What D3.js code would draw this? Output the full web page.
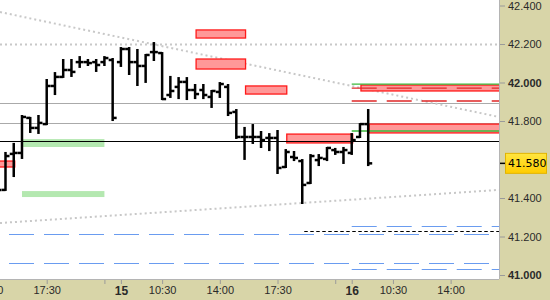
<!DOCTYPE html>
<html>
<head>
<meta charset="utf-8">
<script src="https://cdn.jsdelivr.net/npm/d3@7"></script>
<style>
  body { margin: 0; background: #fff; }
  svg { display: block; font-family: 'DejaVu Sans', sans-serif; }
</style>
</head>
<body>
<svg id="chart" width="550" height="300"></svg>
<script>
// 30 min bars, "day hh:mm" (session 08:00 - 22:00)
const times = [
  '14 14:30', '14 15:00', '14 15:30', '14 16:00', '14 16:30', '14 17:00', '14 17:30', '14 18:00',
  '14 18:30', '14 19:00', '14 19:30', '14 20:00', '14 20:30', '14 21:00', '14 21:30',
  '15 08:00', '15 08:30', '15 09:00', '15 09:30', '15 10:00', '15 10:30', '15 11:00', '15 11:30',
  '15 12:00', '15 12:30', '15 13:00', '15 13:30', '15 14:00', '15 14:30', '15 15:00', '15 15:30',
  '15 16:00', '15 16:30', '15 17:00', '15 17:30', '15 18:00', '15 18:30', '15 19:00', '15 19:30',
  '15 20:00', '15 20:30', '15 21:00', '15 21:30',
  '16 08:00', '16 08:30', '16 09:00'
]
const opens = [
  41.468, 41.442, 41.629, 41.634, 41.816, 41.764, 41.784, 41.982, 42.029, 42.065, 42.106, 42.106, 42.106, 42.106, 42.117,
  42.106, 42.174, 42.106, 42.086, 42.158, 42.153, 41.935, 41.977, 42.003, 41.961, 41.961, 41.925, 41.951, 41.977,
  41.847, 41.717, 41.717, 41.717, 41.712, 41.712, 41.561, 41.613, 41.592, 41.478, 41.597, 41.603, 41.649, 41.639,
  41.634, 41.717, 41.784
]
const highs = [
  41.494, 41.634, 41.681, 41.826, 41.816, 41.826, 42.013, 42.049, 42.117, 42.117, 42.132, 42.117, 42.117, 42.132, 42.122,
  42.179, 42.179, 42.169, 42.143, 42.205, 42.153, 42.029, 42.023, 42.023, 41.987, 41.987, 41.956, 41.997, 41.987,
  41.857, 41.764, 41.779, 41.743, 41.732, 41.748, 41.649, 41.639, 41.597, 41.623, 41.623, 41.660, 41.655, 41.660,
  41.732, 41.784, 41.857
]
const lows = [
  41.431, 41.442, 41.514, 41.608, 41.743, 41.738, 41.784, 41.940, 42.029, 42.034, 42.081, 42.091, 42.060, 42.091, 41.805,
  42.086, 42.044, 41.987, 42.003, 42.117, 41.914, 41.925, 41.919, 41.914, 41.919, 41.919, 41.873, 41.925, 41.831,
  41.712, 41.603, 41.686, 41.665, 41.649, 41.530, 41.561, 41.597, 41.374, 41.478, 41.571, 41.597, 41.629, 41.582,
  41.629, 41.717, 41.571
]
const closes = [
  41.442, 41.618, 41.634, 41.821, 41.764, 41.790, 41.982, 42.029, 42.065, 42.055, 42.106, 42.101, 42.091, 42.127, 41.816,
  42.174, 42.106, 42.086, 42.143, 42.158, 41.914, 41.956, 42.003, 41.961, 41.940, 41.935, 41.956, 41.992, 41.842,
  41.717, 41.717, 41.717, 41.701, 41.712, 41.556, 41.639, 41.608, 41.468, 41.618, 41.608, 41.660, 41.639, 41.649,
  41.701, 41.784, 41.580
]
const lastPrice = 41.580

// axis
const viewStart = '14 14:40'
const viewEnd = '16 16:56'
const yTicks = [41.0, 41.2, 41.4, 41.8, 42.0, 42.2, 42.4]
const xTickTimes = ['14 14:00', '14 17:30', '14 21:00', '15 08:00', '15 10:30', '15 14:00', '15 17:30', '15 21:00', '16 08:00', '16 10:30', '16 14:00']
const xTickLabels = ['14:00', '17:30', '', '15', '10:30', '14:00', '17:30', '', '16', '10:30', '14:00']

// drawings
const grayLevels = [41.894, 41.790]
const blackLevel = 41.696
const dottedLevel = 42.200
const trendDown = [['14 14:40', 42.366], ['16 16:56', 41.821]]
const trendUp = [['14 14:40', 41.270], ['16 16:56', 41.442]]
const greenZones = [['14 16:00', '14 21:00', 41.706, 41.665], ['14 16:00', '14 21:00', 41.436, 41.405]]
const redBoxes = [
  ['14 12:00', '14 15:30', 41.592, 41.561],
  ['15 12:30', '15 15:30', 42.273, 42.231],
  ['15 12:30', '15 15:30', 42.122, 42.070],
  ['15 15:30', '15 18:00', 41.982, 41.940],
  ['15 18:00', '16 08:00', 41.732, 41.686],
  ['16 08:30', '16 18:00', 41.987, 41.956],
  ['16 09:00', '16 18:00', 41.784, 41.738]
]
const blueLevels = [41.213, 41.062]
const blueLevelsToday = [41.255, 41.032]
const redDashedToday = [41.971, 41.904]
const greenToday = [41.992, 41.748]
const blackDashed = ['15 19:00', 41.229]

const W = 550, H = 300, plotW = 499, plotH = 279

const sess = s => {
  const [d, hm] = s.split(' ')
  const [h, m] = hm.split(':').map(Number)
  return (d - 14) * 14 + h - 8 + m / 60
}

const svg = d3.select('#chart')
const x = d3.scaleLinear().domain([sess(viewStart), sess(viewEnd)]).range([0, plotW])
const y = d3.scaleLinear().domain([41.0, 42.4]).range([275, 5.5])
const xt = t => x(sess(t))

svg.append('defs').append('clipPath').attr('id', 'plot-clip')
  .append('rect').attr('width', plotW).attr('height', plotH)

const g = svg.append('g').attr('clip-path', 'url(#plot-clip)')

// levels and trend lines
g.selectAll('.gray-level').data(grayLevels).enter().append('line')
  .attr('x1', 0).attr('x2', plotW)
  .attr('y1', d => Math.round(y(d)) + 0.5).attr('y2', d => Math.round(y(d)) + 0.5)
  .attr('stroke', '#aaaaaa').attr('stroke-width', 1)

g.append('line')
  .attr('x1', 0).attr('x2', plotW)
  .attr('y1', Math.round(y(dottedLevel)) + 0.5).attr('y2', Math.round(y(dottedLevel)) + 0.5)
  .attr('stroke', '#c8c8c8').attr('stroke-width', 2).attr('stroke-dasharray', '2,3')

g.selectAll('.trend').data([trendDown, trendUp]).enter().append('line')
  .attr('x1', d => xt(d[0][0])).attr('y1', d => y(d[0][1]))
  .attr('x2', d => xt(d[1][0])).attr('y2', d => y(d[1][1]))
  .attr('stroke', '#c8c8c8').attr('stroke-width', 2).attr('stroke-dasharray', '2,3')

g.selectAll('.green-zone').data(greenZones).enter().append('rect')
  .attr('x', d => xt(d[0])).attr('width', d => xt(d[1]) - xt(d[0]))
  .attr('y', d => y(d[2])).attr('height', d => y(d[3]) - y(d[2]))
  .attr('fill', '#b4e8b0')

// blue dashed supports
g.selectAll('.blue').data(blueLevels).enter().append('line')
  .attr('x1', 0).attr('x2', plotW)
  .attr('y1', d => Math.round(y(d)) + 0.5).attr('y2', d => Math.round(y(d)) + 0.5)
  .attr('stroke', '#6a9cf0').attr('stroke-width', 1.2)
  .attr('stroke-dasharray', '25,10').attr('stroke-dashoffset', 26)

const todayX = xt('16 08:00')
g.selectAll('.blue-today').data(blueLevelsToday).enter().append('line')
  .attr('x1', todayX).attr('x2', plotW)
  .attr('y1', d => Math.round(y(d)) + 0.5).attr('y2', d => Math.round(y(d)) + 0.5)
  .attr('stroke', '#6a9cf0').attr('stroke-width', 1.2)
  .attr('stroke-dasharray', '25,10')

g.append('line')
  .attr('x1', xt(blackDashed[0]) + 2).attr('x2', plotW)
  .attr('y1', Math.round(y(blackDashed[1])) + 0.5).attr('y2', Math.round(y(blackDashed[1])) + 0.5)
  .attr('stroke', '#000').attr('stroke-width', 1).attr('stroke-dasharray', '3.5,2.5')

// red boxes
g.selectAll('.red-box').data(redBoxes).enter().append('rect')
  .attr('x', d => xt(d[0]) + 1).attr('width', d => xt(d[1]) - xt(d[0]))
  .attr('y', d => y(d[2])).attr('height', d => y(d[3]) - y(d[2]))
  .attr('fill', '#ff9898').attr('stroke', '#ff1a1a').attr('stroke-width', 1.3)

g.selectAll('.green-today').data(greenToday).enter().append('line')
  .attr('x1', todayX).attr('x2', plotW)
  .attr('y1', d => y(d)).attr('y2', d => y(d))
  .attr('stroke', '#3cb83c').attr('stroke-width', 1.3)

g.selectAll('.red-today').data(redDashedToday).enter().append('line')
  .attr('x1', todayX).attr('x2', plotW)
  .attr('y1', d => y(d)).attr('y2', d => y(d))
  .attr('stroke', '#e02828').attr('stroke-width', 1.4)
  .attr('stroke-dasharray', '25,10')

g.append('line')
  .attr('x1', 0).attr('x2', plotW)
  .attr('y1', Math.round(y(blackLevel)) + 0.5).attr('y2', Math.round(y(blackLevel)) + 0.5)
  .attr('stroke', '#000').attr('stroke-width', 1)

// OHLC bars
const bars = times.map((t, i) => ({ t, o: opens[i], h: highs[i], l: lows[i], c: closes[i] }))
const bar = g.selectAll('.bar').data(bars).enter().append('g')
  .attr('transform', d => `translate(${xt(d.t)},0)`)
bar.append('line')
  .attr('y1', d => y(d.h) - 1).attr('y2', d => y(d.l) + 1)
  .attr('stroke', '#000').attr('stroke-width', 2.5)
bar.append('line')
  .attr('x1', -4).attr('x2', 0)
  .attr('y1', d => y(d.o)).attr('y2', d => y(d.o))
  .attr('stroke', '#000').attr('stroke-width', 2.5)
bar.append('line')
  .attr('x1', 0).attr('x2', 4)
  .attr('y1', d => y(d.c)).attr('y2', d => y(d.c))
  .attr('stroke', '#000').attr('stroke-width', 2.5)

// axis panels
svg.append('rect').attr('x', 0).attr('y', plotH).attr('width', W).attr('height', H - plotH).attr('fill', '#d8d5a8')
svg.append('rect').attr('x', plotW).attr('y', 0).attr('width', W - plotW).attr('height', H).attr('fill', '#d8d5a8')
svg.append('line').attr('x1', 0).attr('x2', plotW).attr('y1', plotH + 0.5).attr('y2', plotH + 0.5).attr('stroke', '#b4b4b4')
svg.append('line').attr('x1', plotW + 0.5).attr('x2', plotW + 0.5).attr('y1', 0).attr('y2', plotH).attr('stroke', '#b4b4b4')

const xAxisG = svg.append('g')
  .attr('transform', `translate(0,${plotH})`)
  .call(d3.axisBottom(x).tickValues(xTickTimes.map(sess)).tickSize(4).tickPadding(3)
    .tickFormat((d, i) => xTickLabels[i]))
xAxisG.select('.domain').remove()
xAxisG.selectAll('.tick line').attr('stroke', '#9a9a9a').attr('transform', 'translate(0,1)')
xAxisG.selectAll('.tick text')
  .attr('fill', '#2a2a2a').style('font-size', '11px')
  .style('font-weight', (d, i) => xTickLabels[i].length === 2 ? 'bold' : 'normal')
  .style('font-size', (d, i) => xTickLabels[i].length === 2 ? '12px' : '11px')

const yAxisG = svg.append('g')
  .attr('transform', `translate(${plotW + 1},0)`)
  .call(d3.axisRight(y).tickValues(yTicks).tickSize(5).tickPadding(3).tickFormat(d3.format('.3f')))
yAxisG.select('.domain').remove()
yAxisG.selectAll('.tick line').attr('stroke', '#9a9a9a')
yAxisG.selectAll('.tick text')
  .attr('fill', '#2a2a2a').style('font-size', '11px')
  .style('font-weight', d => Number.isInteger(d) ? 'bold' : 'normal')

// last price marker
const lp = svg.append('g').attr('transform', `translate(${plotW + 1},${y(lastPrice)})`)
const grad = svg.select('defs').append('linearGradient').attr('id', 'lp-grad')
  .attr('x1', 0).attr('x2', 0).attr('y1', 0).attr('y2', 1)
grad.append('stop').attr('offset', 0).attr('stop-color', '#ffe640')
grad.append('stop').attr('offset', 1).attr('stop-color', '#ffcc00')
lp.append('rect').attr('x', 5.5).attr('y', -10).attr('width', 41).attr('height', 20)
  .attr('fill', 'url(#lp-grad)').attr('stroke', '#e2b400')
lp.append('line').attr('x1', 0).attr('x2', 5).attr('stroke', '#000').attr('stroke-width', 1.5)
lp.append('text').attr('x', 8).attr('dy', '0.32em')
  .style('font-size', '11px').attr('fill', '#000').text(d3.format('.3f')(lastPrice))
</script>
</body>
</html>
